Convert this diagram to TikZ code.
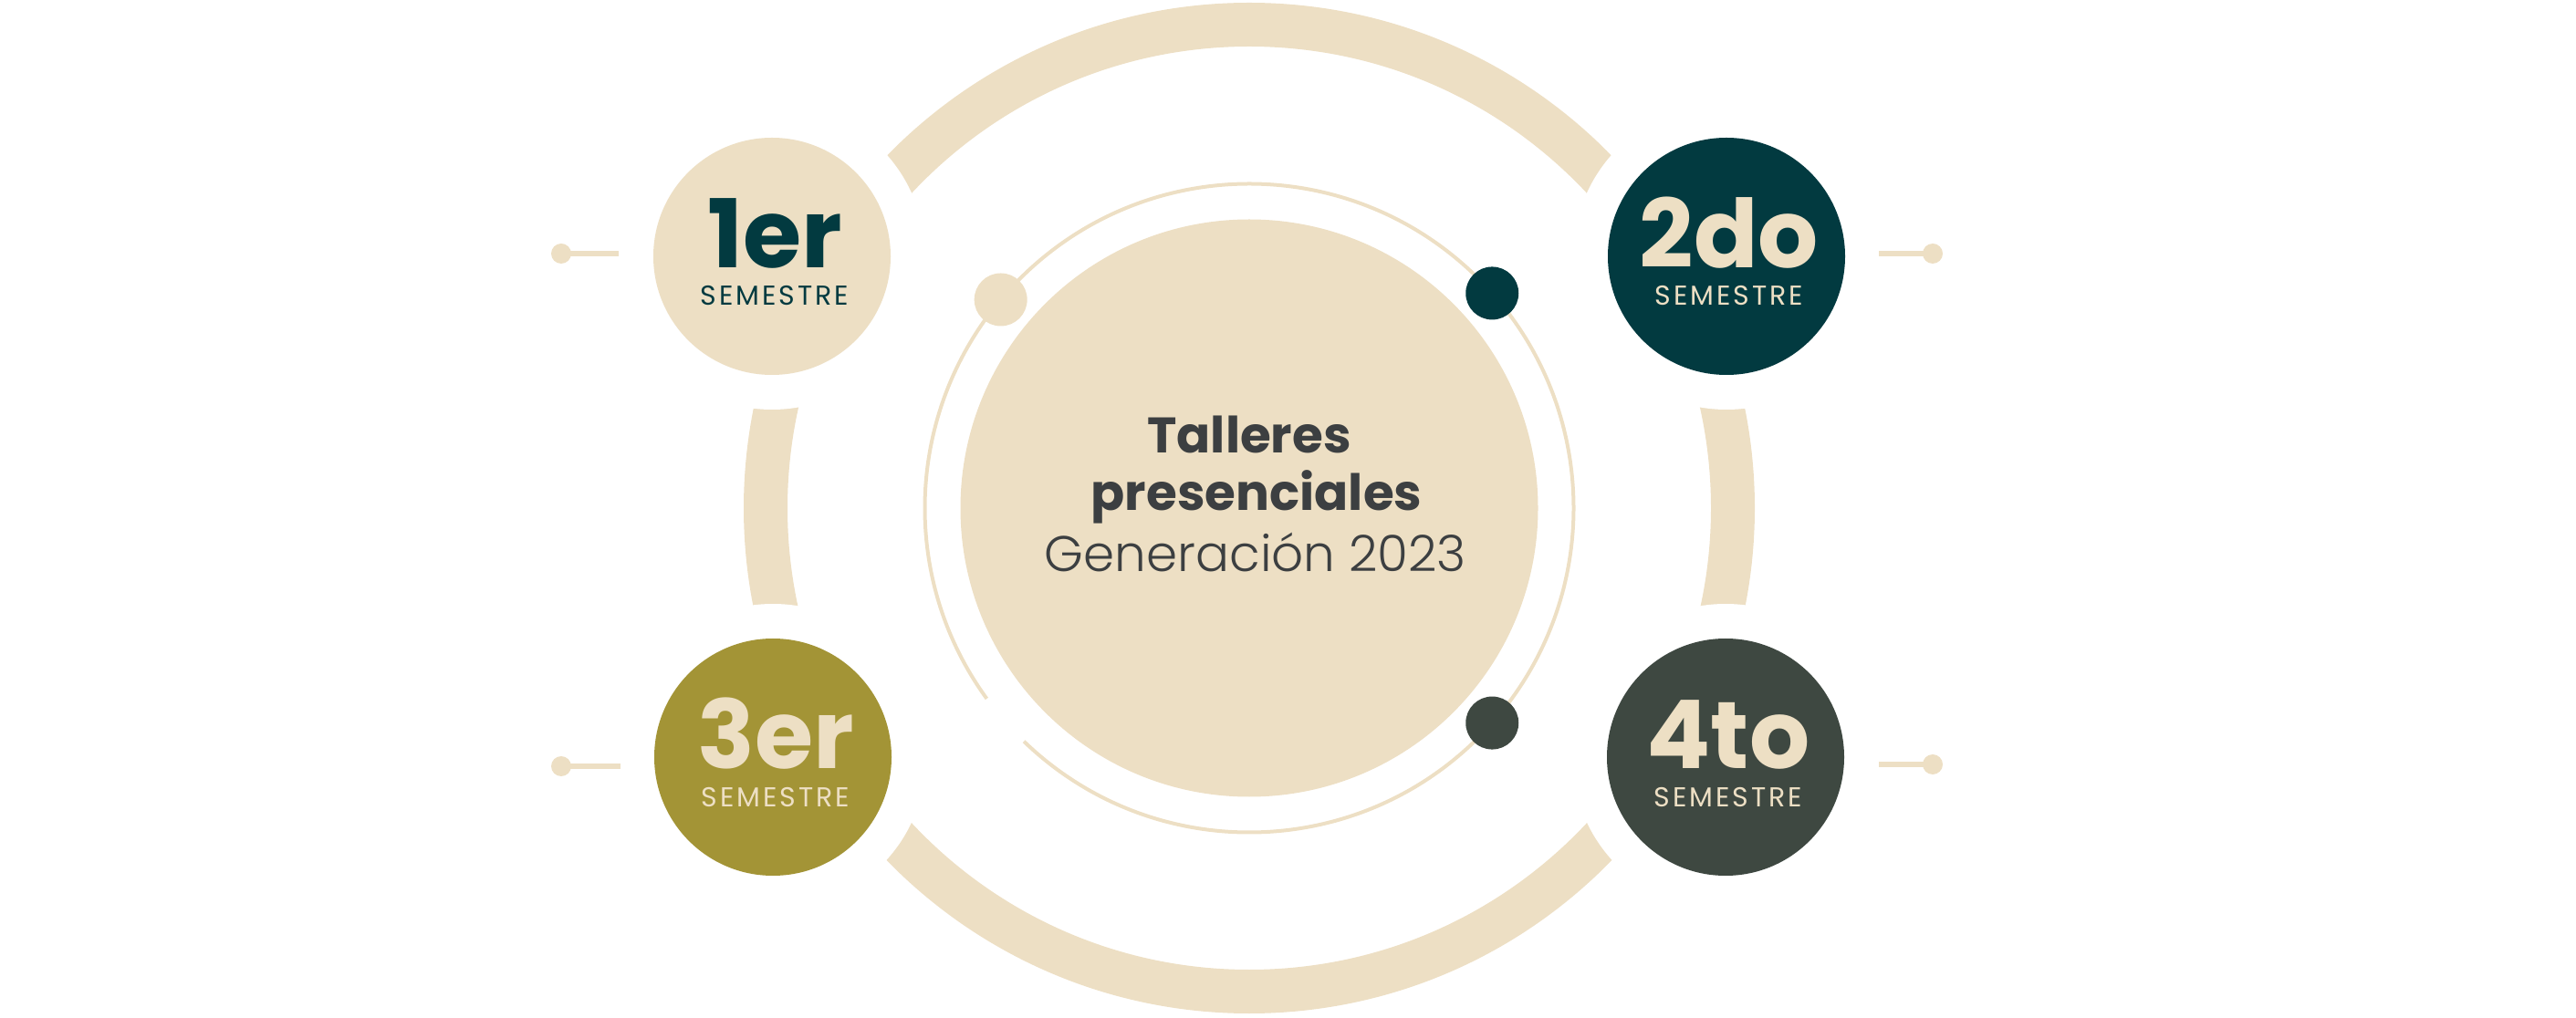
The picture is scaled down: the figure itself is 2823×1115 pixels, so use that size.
\documentclass[tikz,border=0pt]{standalone}
\usepackage{fontspec}
\setmainfont{Poppins}
\newfontfamily\finafont{Poppins Light}
\newfontfamily\anchafont{Poppins}[LetterSpace=10]
\usetikzlibrary{calc,positioning}
\definecolor{Beige}{HTML}{EDDFC4}
\definecolor{Petrol}{HTML}{023A40}
\definecolor{Olive}{HTML}{A39436}
\definecolor{Pizarra}{HTML}{3E4841}
\definecolor{Carbon}{HTML}{3C3F41}
\tikzset{
    semestre/.style = {circle, inner sep=0pt, minimum size=130pt},
    numero/.style = {anchor=base, inner sep=0pt,
        font=\bfseries\fontsize{52}{52}\selectfont},
    rotulo/.style = {anchor=base, inner sep=0pt,
        font=\anchafont\fontsize{15}{15}\selectfont},
    punto/.style = {circle, inner sep=0pt, minimum size=29pt},
    remate/.style = {circle, fill=Beige, inner sep=0pt, minimum size=11pt},
    enlace/.style = {draw=Beige, line width=2.75pt},
    titulo/.style = {anchor=base, inner sep=0pt, text=Carbon,
        font=\bfseries\fontsize{27.4}{27.4}\selectfont}
}

\begin{document}
\begin{tikzpicture}[x=0.5pt, y=0.5pt]
        \useasboundingbox (0,0) rectangle (2823,1115);
        \coordinate (c) at (1369,558);
        % anillo grueso, cortado alrededor de cada semestre
        \draw[Beige, line width=24pt] (c) circle (530);
        \foreach \px/\py in {846/834, 1892/834, 847/285, 1891/285}{
            \fill[white] (\px,\py) circle (168);
        }
        % anillo fino con su hueco abajo a la izquierda
        \draw[Beige, line width=2pt] ($(c)+(226:355.5)$) arc[start angle=226, end angle=576, radius=355.5];
        \node[circle, fill=Beige, inner sep=0pt, minimum size=316.5pt] (centro) at (c) {};
        \node[punto, fill=Beige] (p1) at ($(c)+(140:355.5)$) {};
        \node[punto, fill=Petrol] (p2) at ($(c)+(41.5:355.5)$) {};
        \node[punto, fill=Pizarra] (p4) at ($(c)+(-41.5:355.5)$) {};
        % semestres
        \foreach \n/\px/\py/\fondo/\tinta/\num in {s1/846/834/Beige/Petrol/1er, s2/1892/834/Petrol/Beige/2do, s3/847/285/Olive/Beige/3er, s4/1891/285/Pizarra/Beige/4to}{
            \node[semestre, fill=\fondo] (\n) at (\px,\py) {};
            \node[numero, text=\tinta] (\n-num) at (\px+3,\py-13) {\num};
            \node[rotulo, text=\tinta] (\n-sem) at (\px+3,\py-54) {SEMESTRE};
        }
        % remates laterales
        \node[remate] (r1) at (615,837) {};
        \node[remate] (r2) at (2118,837) {};
        \node[remate] (r3) at (615,275) {};
        \node[remate] (r4) at (2118,277) {};
        \coordinate (e1) at (678,837);
        \coordinate (e2) at (2059,837);
        \coordinate (e3) at (680,275);
        \coordinate (e4) at (2059,277);
        \foreach \i in {1,2,3,4}{
            \draw[enlace] (r\i.center) -- (e\i);
        }
        % texto central
        \node[titulo] (t1) at (1369,618) {Talleres};
        \node[titulo] (t2) at (1377,555) {presenciales};
        \node[anchor=base, inner sep=0pt, text=Carbon, font=\finafont\fontsize{27.4}{27.4}\selectfont] (t3) at (1376,488) {Generación 2023};
\end{tikzpicture}
\end{document}
